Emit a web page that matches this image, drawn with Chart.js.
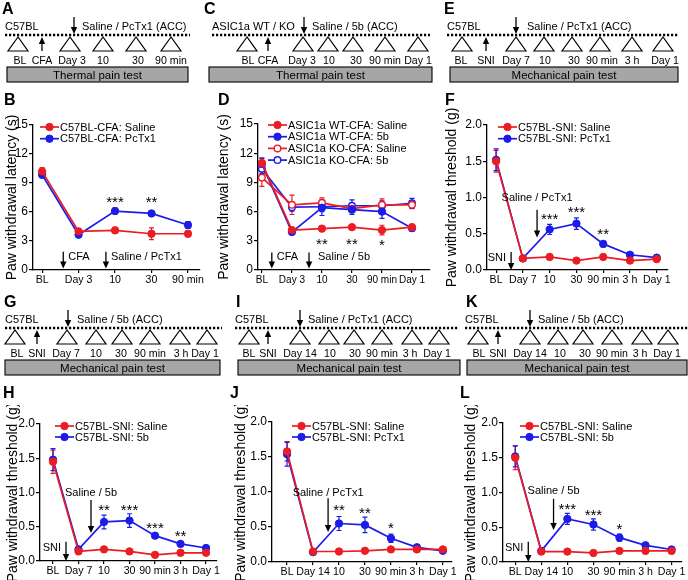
<!DOCTYPE html>
<html>
<head>
<meta charset="utf-8">
<script src="https://cdn.jsdelivr.net/npm/chart.js@4.4.1/dist/chart.umd.min.js"></script>
<style>
  html, body { margin: 0; padding: 0; background: #fff; }
  #fig { position: relative; width: 688px; height: 580px; overflow: hidden; }
  #fig canvas { position: absolute; }
  #fig svg { position: absolute; left: 0; top: 0; }
</style>
</head>
<body>
<div id="fig">
  <canvas id="cB"></canvas>
  <canvas id="cD"></canvas>
  <canvas id="cF"></canvas>
  <canvas id="cH"></canvas>
  <canvas id="cJ"></canvas>
  <canvas id="cL"></canvas>
  <svg id="sch" width="688" height="580"></svg>
</div>
<script>
// ---- data ----
const labelsB = ['BL', 'Day 3', '10', '30', '90 min'];
const salineB = [10.2, 4.0, 4.1, 3.75, 3.75];
const salineB_err = [0.4, 0.2, 0.3, 0.6, 0.3];
const pctxB = [9.85, 3.65, 6.1, 5.85, 4.65];
const pctxB_err = [0.3, 0.2, 0.3, 0.25, 0.35];

const labelsD = ['BL', 'Day 3', '10', '30', '90 min', 'Day 1'];
const wtSalineD = [11.0, 4.1, 4.25, 4.4, 4.1, 4.4];
const wtSalineD_err = [0.5, 0.2, 0.25, 0.2, 0.5, 0.3];
const wt5bD = [10.9, 3.9, 6.4, 6.2, 6.0, 4.3];
const wt5bD_err = [0.6, 0.2, 0.8, 0.5, 0.7, 0.3];
const koSalineD = [9.5, 6.7, 6.9, 6.3, 6.7, 6.7];
const koSalineD_err = [0.9, 1.0, 0.5, 0.4, 0.6, 0.4];
const ko5bD = [10.4, 6.45, 6.5, 6.6, 6.6, 6.85];
const ko5bD_err = [0.5, 0.4, 0.5, 0.6, 0.5, 0.5];

const labelsF = ['BL', 'Day 7', '10', '30', '90 min', '3 h', 'Day 1'];
const salineF = [1.50, 0.16, 0.18, 0.13, 0.18, 0.13, 0.15];
const salineF_err = [0.15, 0.02, 0.03, 0.02, 0.03, 0.02, 0.03];
const pctxF = [1.52, 0.16, 0.56, 0.64, 0.36, 0.21, 0.17];
const pctxF_err = [0.15, 0.02, 0.07, 0.08, 0.04, 0.03, 0.03];

const labelsH = ['BL', 'Day 7', '10', '30', '90 min', '3 h', 'Day 1'];
const salineH = [1.45, 0.14, 0.17, 0.14, 0.09, 0.12, 0.12];
const salineH_err = [0.17, 0.02, 0.04, 0.03, 0.02, 0.02, 0.02];
const b5H = [1.48, 0.17, 0.57, 0.59, 0.37, 0.25, 0.19];
const b5H_err = [0.16, 0.03, 0.10, 0.10, 0.03, 0.02, 0.02];

const labelsJ = ['BL', 'Day 14', '10', '30', '90 min', '3 h', 'Day 1'];
const salineJ = [1.58, 0.15, 0.15, 0.16, 0.18, 0.18, 0.18];
const salineJ_err = [0.14, 0.02, 0.02, 0.02, 0.03, 0.03, 0.03];
const pctxJ = [1.54, 0.14, 0.55, 0.53, 0.34, 0.21, 0.16];
const pctxJ_err = [0.17, 0.02, 0.10, 0.11, 0.06, 0.03, 0.02];

const labelsL = ['BL', 'Day 14', '10', '30', '90 min', '3 h', 'Day 1'];
const salineL = [1.50, 0.15, 0.15, 0.13, 0.16, 0.16, 0.16];
const salineL_err = [0.17, 0.02, 0.02, 0.02, 0.02, 0.02, 0.02];
const b5L = [1.52, 0.16, 0.62, 0.54, 0.35, 0.24, 0.18];
const b5L_err = [0.15, 0.02, 0.08, 0.08, 0.05, 0.03, 0.03];

// significance marks and arrows, in data units
const starsB = [{x: 2, y: 7.4, t: '***'}, {x: 3, y: 7.4, t: '**'}];
const starsD = [{x: 2, y: 3.05, t: '**'}, {x: 3, y: 3.05, t: '**'}, {x: 4, y: 2.9, t: '*'}];
const starsF = [{x: 2, y: 0.75, t: '***'}, {x: 3, y: 0.85, t: '***'}, {x: 4, y: 0.55, t: '**'}];
const starsH = [{x: 2, y: 0.79, t: '**'}, {x: 3, y: 0.80, t: '***'}, {x: 4, y: 0.54, t: '***'}, {x: 5, y: 0.41, t: '**'}];
const starsJ = [{x: 2, y: 0.79, t: '**'}, {x: 3, y: 0.75, t: '**'}, {x: 4, y: 0.54, t: '*'}];
const starsL = [{x: 2, y: 0.82, t: '***'}, {x: 3, y: 0.72, t: '***'}, {x: 4, y: 0.53, t: '*'}];

const notesB = [
  {x: 0.58, from: 1.9, to: 0.15, text: 'CFA', side: 'right', ty: 1.35},
  {x: 1.75, from: 1.9, to: 0.15, text: 'Saline / PcTx1', side: 'right', ty: 1.35}
];
const notesD = [
  {x: 0.33, from: 1.8, to: 0.15, text: 'CFA', side: 'right', ty: 1.3},
  {x: 1.57, from: 1.8, to: 0.15, text: 'Saline / 5b', side: 'right', ty: 1.3, gap: 9}
];
const notesF = [
  {x: 1.53, from: 0.83, to: 0.45, text: 'Saline / PcTx1', side: 'above', ty: 0.99},
  {x: 0.56, from: 0.25, to: 0.0, text: 'SNI', side: 'left', ty: 0.165}
];
const notesH = [
  {x: 1.49, from: 0.89, to: 0.41, text: 'Saline / 5b', side: 'above', ty: 0.99},
  {x: 0.51, from: 0.28, to: 0.0, text: 'SNI', side: 'left', ty: 0.19}
];
const notesJ = [
  {x: 1.58, from: 0.91, to: 0.43, text: 'Saline / PcTx1', side: 'above', ty: 0.99}
];
const notesL = [
  {x: 1.47, from: 0.91, to: 0.46, text: 'Saline / 5b', side: 'above', ty: 1.02},
  {x: 0.5, from: 0.29, to: 0.0, text: 'SNI', side: 'left', ty: 0.2}
];

// ---- style ----
const FONT = "'Liberation Sans', Arial, Helvetica, sans-serif";
const RED = '#ec1c24';
const BLUE = '#1c1ce8';
Chart.defaults.font.family = FONT;
Chart.defaults.color = '#000';

function arrowDown(ctx, x, y1, y2) {
  ctx.beginPath();
  ctx.moveTo(x, y1);
  ctx.lineTo(x, y2 - 5);
  ctx.stroke();
  ctx.beginPath();
  ctx.moveTo(x - 3.2, y2 - 7);
  ctx.lineTo(x + 3.2, y2 - 7);
  ctx.lineTo(x, y2);
  ctx.closePath();
  ctx.fill();
}

function figPlugin(cfg) {
  return {
    id: 'fig',
    beforeDatasetsDraw(chart) {
      const ctx = chart.ctx, xs = chart.scales.x, ys = chart.scales.y;
      ctx.save();
      chart.data.datasets.forEach(ds => {
        ctx.strokeStyle = ds.borderColor;
        ctx.lineWidth = 1.2;
        ds.data.forEach((p, i) => {
          const e = ds.err[i];
          if (!e) return;
          const x = xs.getPixelForValue(p.x);
          const y1 = ys.getPixelForValue(p.y + e), y2 = ys.getPixelForValue(p.y - e);
          ctx.beginPath();
          ctx.moveTo(x, y1); ctx.lineTo(x, y2);
          ctx.moveTo(x - 2.5, y1); ctx.lineTo(x + 2.5, y1);
          ctx.moveTo(x - 2.5, y2); ctx.lineTo(x + 2.5, y2);
          ctx.stroke();
        });
      });
      ctx.restore();
    },
    afterDatasetsDraw(chart) {
      const ctx = chart.ctx, xs = chart.scales.x, ys = chart.scales.y;
      const area = chart.chartArea;
      ctx.save();
      ctx.fillStyle = '#000';
      ctx.strokeStyle = '#000';
      ctx.lineWidth = 1.3;
      // stars
      ctx.font = '15px ' + FONT;
      ctx.textAlign = 'center';
      ctx.textBaseline = 'alphabetic';
      cfg.stars.forEach(s => {
        ctx.fillText(s.t, xs.getPixelForValue(s.x), ys.getPixelForValue(s.y) + 8.5);
      });
      // arrows
      ctx.font = '11px ' + FONT;
      ctx.textBaseline = 'middle';
      cfg.notes.forEach(n => {
        const x = xs.getPixelForValue(n.x);
        arrowDown(ctx, x, ys.getPixelForValue(n.from), ys.getPixelForValue(n.to));
        const ty = ys.getPixelForValue(n.ty);
        const gap = n.gap || 5;
        if (n.side === 'right') {
          ctx.textAlign = 'left';
          ctx.fillText(n.text, x + gap, ty);
        } else if (n.side === 'above') {
          ctx.textAlign = 'center';
          ctx.fillText(n.text, x, ty);
        } else {
          ctx.textAlign = 'right';
          ctx.fillText(n.text, x - gap, ty);
        }
      });
      // legend
      const lg = cfg.legend;
      ctx.textAlign = 'left';
      chart.data.datasets.forEach((ds, i) => {
        const x = area.left + lg.x, y = area.top + lg.y + i * lg.dy;
        ctx.strokeStyle = ds.borderColor;
        ctx.lineWidth = 1.7;
        ctx.beginPath();
        ctx.moveTo(x, y); ctx.lineTo(x + 19, y);
        ctx.stroke();
        ctx.beginPath();
        ctx.arc(x + 9.5, y, ds.pointRadius, 0, Math.PI * 2);
        ctx.fillStyle = ds.pointBackgroundColor;
        ctx.fill();
        ctx.lineWidth = ds.pointBorderWidth;
        ctx.stroke();
        ctx.fillStyle = '#000';
        ctx.font = '11px ' + FONT;
        ctx.fillText(ds.label, x + 20, y + 0.5);
      });
      ctx.restore();
    }
  };
}

function makeChart(id, cfg) {
  const cv = document.getElementById(id);
  const [l, t, w, h] = cfg.box;
  const [ax0, ay0, ax1, ay1] = cfg.area;
  cv.width = w; cv.height = h;
  cv.style.left = l + 'px'; cv.style.top = t + 'px';
  cv.style.width = w + 'px'; cv.style.height = h + 'px';
  const datasets = cfg.series.map(s => ({
    label: s.label,
    data: s.values.map((v, i) => ({x: i, y: v})),
    err: s.err,
    borderColor: s.color,
    backgroundColor: s.color,
    pointBackgroundColor: s.open ? '#fff' : s.color,
    pointBorderColor: s.color,
    pointRadius: s.open ? 3.3 : 3.7,
    pointBorderWidth: s.open ? 1.4 : 1,
    borderWidth: 1.7,
    tension: 0
  }));
  const axisBorder = {display: true, color: '#000', width: 1.3};
  new Chart(cv, {
    type: 'line',
    data: {datasets},
    options: {
      responsive: false,
      animation: false,
      devicePixelRatio: 1,
      layout: {padding: {left: 0, top: ay0 - t, right: l + w - ax1, bottom: 0}},
      plugins: {legend: {display: false}, tooltip: {enabled: false}},
      scales: {
        x: {
          type: 'linear', min: cfg.xmin, max: cfg.xmax,
          afterFit: s => { s.height = t + h - ay1; },
          afterBuildTicks: s => { s.ticks = cfg.labels.map((_, i) => ({value: i})); },
          ticks: {callback: v => cfg.labels[v], autoSkip: false, maxRotation: 0, padding: 1,
                  font: {size: cfg.xfont || 10.6}, color: '#000'},
          grid: {display: true, drawOnChartArea: false, tickLength: 3, color: '#000', lineWidth: 1.2},
          border: axisBorder
        },
        y: {
          min: 0, max: cfg.ymax,
          afterFit: s => { s.width = ax0 - l; },
          ticks: {stepSize: cfg.ystep, callback: cfg.yfmt, padding: 1, font: {size: 12}, color: '#000'},
          grid: {drawOnChartArea: false, tickLength: 4, color: '#000', lineWidth: 1.2},
          border: axisBorder,
          title: {display: true, text: cfg.ytitle, font: {size: 14}, padding: 0, color: '#000'}
        }
      }
    },
    plugins: [figPlugin(cfg)]
  });
}

const latency = 'Paw withdrawal latency (s)';
const threshold = 'Paw withdrawal threshold (g)';
const fmtInt = v => String(v);
const fmt1 = v => v.toFixed(1);

makeChart('cB', {
  box: [4, 105, 211, 187], area: [33, 125, 200, 270], xmin: -0.25, xmax: 4.33,
  ymax: 15, ystep: 3, yfmt: fmtInt, ytitle: latency, labels: labelsB,
  series: [
    {label: 'C57BL-CFA: Saline', values: salineB, err: salineB_err, color: RED},
    {label: 'C57BL-CFA: PcTx1', values: pctxB, err: pctxB_err, color: BLUE}
  ],
  stars: starsB, notes: notesB, legend: {x: 7, y: 2, dy: 11.7}
});

makeChart('cD', {
  box: [216, 105, 224, 187], area: [258, 124, 430, 270], xmin: -0.13, xmax: 5.6, xfont: 10,
  ymax: 15, ystep: 3, yfmt: fmtInt, ytitle: latency, labels: labelsD,
  series: [
    {label: 'ASIC1a WT-CFA: Saline', values: wtSalineD, err: wtSalineD_err, color: RED},
    {label: 'ASIC1a WT-CFA: 5b', values: wt5bD, err: wt5bD_err, color: BLUE},
    {label: 'ASIC1a KO-CFA: Saline', values: koSalineD, err: koSalineD_err, color: RED, open: true},
    {label: 'ASIC1a KO-CFA: 5b', values: ko5bD, err: ko5bD_err, color: BLUE, open: true}
  ],
  stars: starsD, notes: notesD, legend: {x: 10, y: 1, dy: 11.7}
});

makeChart('cF', {
  box: [444, 105, 241, 187], area: [487, 125, 668, 270], xmin: -0.34, xmax: 6.42,
  ymax: 2, ystep: 0.5, yfmt: fmt1, ytitle: threshold, labels: labelsF,
  series: [
    {label: 'C57BL-SNI: Saline', values: salineF, err: salineF_err, color: RED},
    {label: 'C57BL-SNI: PcTx1', values: pctxF, err: pctxF_err, color: BLUE}
  ],
  stars: starsF, notes: notesF, legend: {x: 11, y: 2, dy: 11.7}
});

makeChart('cH', {
  box: [5, 405, 220, 175], area: [40, 424, 217, 561], xmin: -0.51, xmax: 6.43,
  ymax: 2, ystep: 0.5, yfmt: fmt1, ytitle: threshold, labels: labelsH,
  series: [
    {label: 'C57BL-SNI: Saline', values: salineH, err: salineH_err, color: RED},
    {label: 'C57BL-SNI: 5b', values: b5H, err: b5H_err, color: BLUE}
  ],
  stars: starsH, notes: notesH, legend: {x: 15, y: 2, dy: 11}
});

makeChart('cJ', {
  box: [233, 405, 225, 175], area: [272, 422, 452, 562], xmin: -0.58, xmax: 6.35,
  ymax: 2, ystep: 0.5, yfmt: fmt1, ytitle: threshold, labels: labelsJ,
  series: [
    {label: 'C57BL-SNI: Saline', values: salineJ, err: salineJ_err, color: RED},
    {label: 'C57BL-SNI: PcTx1', values: pctxJ, err: pctxJ_err, color: BLUE}
  ],
  stars: starsJ, notes: notesJ, legend: {x: 20, y: 4, dy: 11}
});

makeChart('cL', {
  box: [463, 405, 224, 175], area: [503, 423, 682, 562], xmin: -0.47, xmax: 6.4,
  ymax: 2, ystep: 0.5, yfmt: fmt1, ytitle: threshold, labels: labelsL,
  series: [
    {label: 'C57BL-SNI: Saline', values: salineL, err: salineL_err, color: RED},
    {label: 'C57BL-SNI: 5b', values: b5L, err: b5L_err, color: BLUE}
  ],
  stars: starsL, notes: notesL, legend: {x: 17, y: 3, dy: 11}
});

// ---- timeline schematics (A, C, E, G, I, K) and panel letters ----
const schemes = [
  {letter: 'A', lx: 2, dy: 0, strain: 'C57BL', sx: 5, treat: 'Saline / PcTx1 (ACC)', tx: 82, ax: 74,
   dots: [5, 190], tris: [18, 70, 103, 136, 171], up: 42, box: [7, 188], test: 'Thermal pain test',
   labels: [['BL', 20], ['CFA', 42], ['Day 3', 72], ['10', 103], ['30', 138], ['90 min', 171]]},
  {letter: 'C', lx: 204, dy: 0, strain: 'ASIC1a WT / KO', sx: 212, treat: 'Saline / 5b (ACC)', tx: 312, ax: 304,
   dots: [212, 430], tris: [247, 303, 328, 353, 385, 418], up: 268, box: [209, 432], test: 'Thermal pain test',
   labels: [['BL', 248], ['CFA', 268], ['Day 3', 302], ['10', 329], ['30', 356], ['90 min', 385], ['Day 1', 418]]},
  {letter: 'E', lx: 444, dy: 0, strain: 'C57BL', sx: 447, treat: 'Saline / PcTx1 (ACC)', tx: 527, ax: 516,
   dots: [447, 678], tris: [462, 516, 544, 572, 600, 632, 663], up: 486, box: [450, 678], test: 'Mechanical pain test',
   labels: [['BL', 461], ['SNI', 486], ['Day 7', 516], ['10', 545], ['30', 574], ['90 min', 602], ['3 h', 632], ['Day 1', 665]]},
  {letter: 'G', lx: 4, dy: 293, strain: 'C57BL', sx: 5, treat: 'Saline / 5b (ACC)', tx: 77, ax: 68,
   dots: [5, 222], tris: [15, 67, 96, 122, 150, 180, 207], up: 37, box: [5, 220], test: 'Mechanical pain test',
   labels: [['BL', 17], ['SNI', 37], ['Day 7', 66], ['10', 96], ['30', 121], ['90 min', 150], ['3 h', 181], ['Day 1', 205]]},
  {letter: 'I', lx: 236, dy: 293, strain: 'C57BL', sx: 235, treat: 'Saline / PcTx1 (ACC)', tx: 308, ax: 300,
   dots: [235, 458], tris: [249, 300, 329, 354, 382, 412, 439], up: 268, box: [238, 460], test: 'Mechanical pain test',
   labels: [['BL', 249], ['SNI', 268], ['Day 14', 300], ['10', 330], ['30', 355], ['90 min', 382], ['3 h', 410], ['Day 1', 437]]},
  {letter: 'K', lx: 466, dy: 293, strain: 'C57BL', sx: 465, treat: 'Saline / 5b (ACC)', tx: 538, ax: 530,
   dots: [465, 688], tris: [478, 530, 558, 583, 612, 642, 668], up: 498, box: [467, 687], test: 'Mechanical pain test',
   labels: [['BL', 479], ['SNI', 498], ['Day 14', 530], ['10', 560], ['30', 585], ['90 min', 612], ['3 h', 640], ['Day 1', 667]]}
];
const chartLetters = [['B', 4, 105], ['D', 218, 105], ['F', 445, 105], ['H', 3, 398], ['J', 230, 398], ['L', 460, 398]];

function txt(t, x, y, size, anchor, weight) {
  return `<text x="${x}" y="${y}" font-size="${size}" text-anchor="${anchor || 'start'}"` +
         ` font-weight="${weight || 'normal'}">${t}</text>`;
}
function svgArrow(x, yFrom, yTip) {
  const d = yTip > yFrom ? 1 : -1;
  return `<line x1="${x}" y1="${yFrom}" x2="${x}" y2="${yTip - d * 5}" stroke="#000" stroke-width="1.3"/>` +
         `<polygon points="${x - 3.2},${yTip - d * 7} ${x + 3.2},${yTip - d * 7} ${x},${yTip}" fill="#000"/>`;
}

let svg = '';
schemes.forEach(s => {
  const o = s.dy;
  svg += txt(s.letter, s.lx, 14 + o, 16, 'start', 'bold');
  svg += txt(s.strain, s.sx, 30 + o, 11);
  svg += txt(s.treat, s.tx, 30 + o, 11);
  svg += `<line x1="${s.dots[0]}" y1="${35 + o}" x2="${s.dots[1]}" y2="${35 + o}" stroke="#000"` +
         ` stroke-width="2.6" stroke-dasharray="2.2 1.8"/>`;
  svg += svgArrow(s.ax, 17 + o, 34 + o);
  s.tris.forEach(x => {
    svg += `<polygon points="${x},${37 + o} ${x - 10},${51 + o} ${x + 10},${51 + o}" fill="none"` +
           ` stroke="#000" stroke-width="1.2"/>`;
  });
  svg += svgArrow(s.up, 51 + o, 37 + o);
  s.labels.forEach(([t, x]) => { svg += txt(t, x, 64 + o, 10.6, 'middle'); });
  svg += `<rect x="${s.box[0]}" y="${67 + o}" width="${s.box[1] - s.box[0]}" height="15" fill="#a6a6a6"` +
         ` stroke="#000" stroke-width="1.1"/>`;
  svg += txt(s.test, (s.box[0] + s.box[1]) / 2, 79 + o, 11.5, 'middle');
});
chartLetters.forEach(([t, x, y]) => { svg += txt(t, x, y, 16, 'start', 'bold'); });
const sch = document.getElementById('sch');
sch.setAttribute('font-family', FONT);
sch.innerHTML = svg;
</script>
</body>
</html>
